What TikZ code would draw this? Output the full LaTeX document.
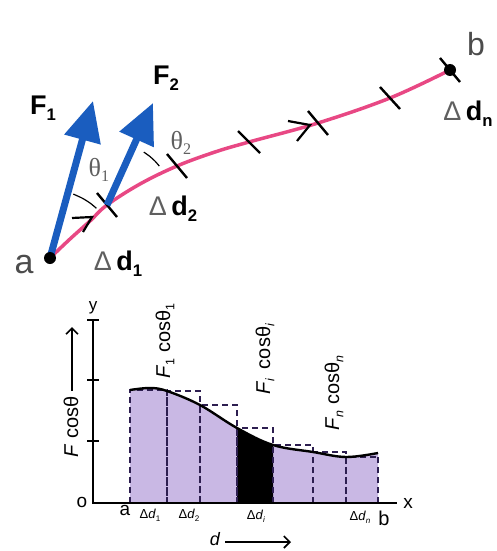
\documentclass[tikz,border=0pt]{standalone}
\usepackage{fontspec}
\usepackage{graphicx}
\setmainfont{Liberation Sans}
\newfontfamily\serifgr{Liberation Serif}
\usetikzlibrary{arrows.meta}
\definecolor{pinkc}{RGB}{232,72,132}
\definecolor{bluec}{RGB}{26,93,191}
\definecolor{lav}{RGB}{201,184,228}
\definecolor{dashc}{RGB}{45,30,80}
\definecolor{grayt}{RGB}{95,95,95}
\newcommand\sbs[1]{\raisebox{-0.22em}{\scalebox{0.62}{#1}}}
\begin{document}
\begin{tikzpicture}[x=1pt,y=-1pt,
  tickmark/.style={line width=2.4pt,black},
  chev/.style={line width=2.2pt,black,line join=miter},
  bigbold/.style={font=\fontsize{27}{30}\selectfont\bfseries},
  thetalab/.style={font=\serifgr\fontsize{26}{28}\selectfont,text=grayt},
  rotlab/.style={rotate=90,font=\fontsize{20}{22}\selectfont},
  smalllab/.style={font=\fontsize{13}{15}\selectfont},
  dashbox/.style={dashc,line width=1.6pt,dash pattern=on 6pt off 4pt},
  forcearrow/.style={bluec,line width=7pt,-{Triangle[length=40pt,width=36pt]}}
]
\useasboundingbox (0,0) rectangle (496,551);

% ---------- top diagram ----------
\coordinate (a) at (50,258);
\coordinate (b) at (450,70);
\coordinate (p1) at (107,205);
\coordinate (p2) at (177,166);
\coordinate (p3) at (249,142);
\coordinate (p4) at (318,123);
\coordinate (p5) at (390,98);

\draw[pinkc,line width=3.5pt] plot[smooth,tension=0.6] coordinates {(a) (70,239) (90,221) (p1) (140,184) (p2) (215,152) (p3) (p4) (p5) (b)};

% ticks
\foreach \p in {p1,p2,p4} \draw[tickmark] (\p) ++(-10,-12) -- ++(20,24);
\draw[tickmark] (p3) ++(-11,-11) -- ++(22,22);
\draw[tickmark] (p5) ++(-10,-11) -- ++(20,22);
\draw[tickmark] (b) ++(-10,-12) -- ++(20,24);

% chevrons
\draw[chev] (72,218) -- (92,217) -- (83,232);
\draw[chev] (288,121) -- (310,125) -- (297,141);

% angle arcs
\draw[black,line width=1.2pt] plot[smooth] coordinates {(73.3,194.1) (81.9,198.0) (90.0,203.0) (96.4,208.3)};
\draw[black,line width=1.2pt] plot[smooth] coordinates {(143.8,152.1) (149.8,156.4) (155.2,161.3) (159.3,166.1)};

% forces
\coordinate (t1) at (93,101);
\coordinate (t2) at (153,103);
\draw[forcearrow] (a) -- (t1);
\draw[forcearrow] (p1) -- (t2);

\fill[black] (a) circle (6pt);
\fill[black] (b) circle (6pt);

\node[bigbold] (F1) at (43,108) {F\sbs{1}};
\node[bigbold] (F2) at (166,78) {F\sbs{2}};
\node[thetalab] (th1) at (99,170) {θ\sbs{1}};
\node[thetalab] (th2) at (181,143) {θ\sbs{2}};
\node[bigbold] (dd2) at (173,209) {{\mdseries\color{grayt}Δ}\,d\sbs{2}};
\node[bigbold] (dd1) at (118,264) {{\mdseries\color{grayt}Δ}\,d\sbs{1}};
\node[bigbold] (ddn) at (468,114) {{\mdseries\color{grayt}Δ}\,d\sbs{n}};
\node[font=\fontsize{34}{36}\selectfont,text=grayt!80!black] (la) at (24,265) {a};
\node[font=\fontsize{32}{34}\selectfont,text=grayt!80!black] (lb) at (476,44) {b};

% ---------- lower graph ----------
\fill[lav] (130,503) -- plot[smooth,tension=0.6] coordinates {(130,390) (150,388) (167,391) (200,405) (237,428) (273,445) (313,452) (346,457) (378,453)} -- (378,503) -- cycle;
\begin{scope}
  \clip (237,300) rectangle (273,503);
  \fill[black] (130,503) -- plot[smooth,tension=0.6] coordinates {(130,390) (150,388) (167,391) (200,405) (237,428) (273,445) (313,452) (346,457) (378,453)} -- (378,503) -- cycle;
\end{scope}

\draw[dashbox] (130,503) rectangle (167,390);
\draw[dashbox] (167,503) rectangle (200,391);
\draw[dashbox] (200,503) rectangle (237,405);
\draw[dashbox] (237,503) rectangle (273,428);
\draw[dashbox] (273,503) rectangle (313,445);
\draw[dashbox] (313,503) rectangle (346,452);
\draw[dashbox] (346,503) -- (346,457) -- (378,457);
\draw[dashbox] (378,503) -- (378,453);

\draw[black,line width=2.4pt] plot[smooth,tension=0.6] coordinates {(130,390) (150,388) (167,391) (200,405) (237,428) (273,445) (313,452) (346,457) (378,453)};

% axes
\coordinate (O) at (93,503);
\coordinate (ytop) at (93,320);
\coordinate (xend) at (397,503);
\draw[black,line width=2pt] (ytop) -- (O) -- (xend);
\foreach \yy in {320,380,441} \draw[black,line width=2pt] (87,\yy) -- (99,\yy);

\node[font=\fontsize{17}{19}\selectfont] (ly) at (93,308) {y};
\node[font=\fontsize{19}{21}\selectfont] (lx) at (408,503) {x};
\node[font=\fontsize{19}{21}\selectfont] (lo) at (82,502) {o};

\node[rotlab] (l1) at (165,341) {\textit{F}\sbs{1} cosθ\sbs{1}};
\node[rotlab] (li) at (265,359) {\textit{F}\sbs{\textit{i}} \,cosθ\sbs{\textit{i}}};
\node[rotlab] (ln) at (334,393) {\textit{F}\sbs{\textit{n}} cosθ\sbs{\textit{n}}};
\node[rotlab] (lf) at (71,427) {\textit{F} cosθ};
\coordinate (fa1) at (72,391);
\coordinate (fa2) at (72,327);
\draw[black,line width=1.6pt,-{Straight Barb[length=6pt,width=12pt]}] (fa1) -- (fa2);

\node[font=\fontsize{19}{21}\selectfont] (ga) at (125,510) {a};
\node[smalllab] (g1) at (150,515) {Δ\textit{d}\sbs{1}};
\node[smalllab] (g2) at (189,515) {Δ\textit{d}\sbs{2}};
\node[smalllab] (gi) at (256,516) {Δ\textit{d}\sbs{\textit{i}}};
\node[smalllab] (gn) at (360,517) {Δ\textit{d}\sbs{\textit{n}}};
\node[font=\fontsize{20}{22}\selectfont] (gb) at (384,518) {b};
\node[font=\fontsize{18}{20}\selectfont\itshape] (gd) at (215,539) {d};
\coordinate (da1) at (225,542);
\coordinate (da2) at (291,542);
\draw[black,line width=1.6pt,-{Straight Barb[length=6pt,width=12pt]}] (da1) -- (da2);
\end{tikzpicture}
\end{document}
